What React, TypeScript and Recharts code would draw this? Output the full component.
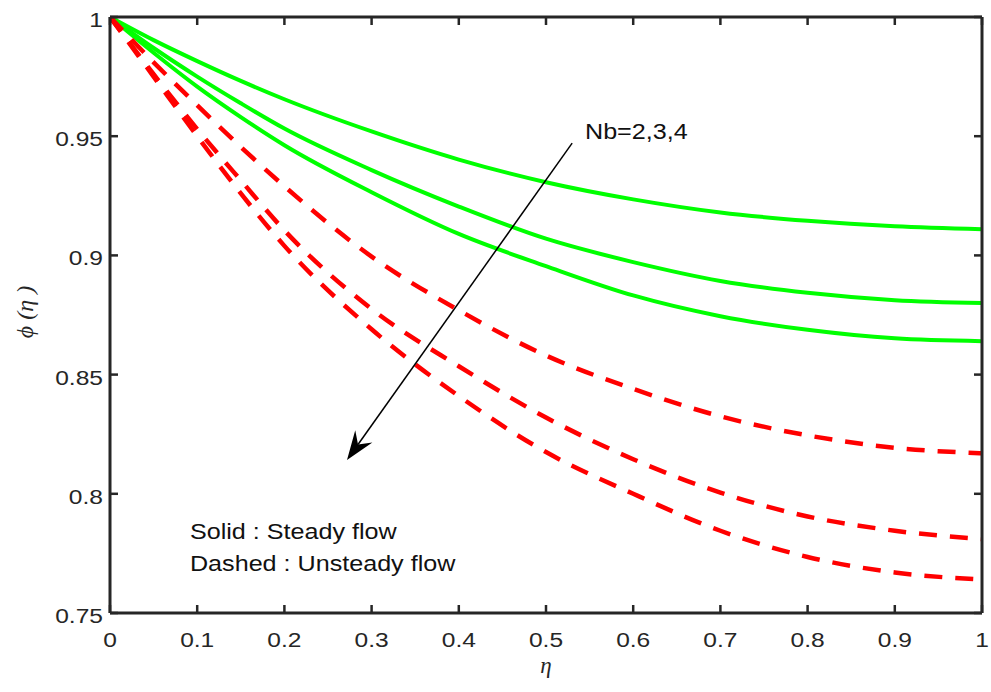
import React from "react";
import { LineChart, Line, XAxis, YAxis, ReferenceLine, ReferenceDot } from "recharts";

// eta grid and phi(eta) profiles
const etaValues = [0, 0.05, 0.1, 0.15, 0.2, 0.3, 0.4, 0.5, 0.6, 0.7, 0.8, 0.9, 1];
const steadyNb2 = [1, 0.9903, 0.9815, 0.9732, 0.9655, 0.952, 0.9402, 0.9307, 0.9235, 0.918, 0.9145, 0.9122, 0.911];
const steadyNb3 = [1, 0.987, 0.975, 0.9638, 0.9532, 0.9358, 0.9205, 0.907, 0.8972, 0.8893, 0.8843, 0.8812, 0.88];
const steadyNb4 = [1, 0.985, 0.9708, 0.958, 0.9462, 0.9265, 0.909, 0.8955, 0.8832, 0.8745, 0.8688, 0.8652, 0.864];
const unsteadyNb2 = [1, 0.981, 0.963, 0.9455, 0.929, 0.8995, 0.877, 0.858, 0.844, 0.8325, 0.8245, 0.8193, 0.817];
const unsteadyNb3 = [1, 0.976, 0.953, 0.9315, 0.9105, 0.8775, 0.8535, 0.832, 0.8145, 0.8005, 0.7905, 0.7845, 0.781];
const unsteadyNb4 = [1, 0.975, 0.95, 0.926, 0.904, 0.869, 0.841, 0.8175, 0.8, 0.7845, 0.7735, 0.767, 0.764];

const xTicks = [0, 0.1, 0.2, 0.3, 0.4, 0.5, 0.6, 0.7, 0.8, 0.9, 1];
const yTicks = [0.75, 0.8, 0.85, 0.9, 0.95, 1];

// annotation anchors (data coordinates)
const arrowFrom = { eta: 0.53, phi: 0.9471 };
const arrowTo = { eta: 0.2718, phi: 0.8142 };
const notes = [
  { eta: 0.5447, phi: 0.9522, text: "Nb=2,3,4" },
  { eta: 0.0917, phi: 0.7844, text: "Solid : Steady flow" },
  { eta: 0.0917, phi: 0.771, text: "Dashed : Unsteady flow" },
];

const data = etaValues.map((eta, i) => ({
  eta,
  s2: steadyNb2[i],
  s3: steadyNb3[i],
  s4: steadyNb4[i],
  u2: unsteadyNb2[i],
  u3: unsteadyNb3[i],
  u4: unsteadyNb4[i],
}));

const series = [
  { key: "s2", color: "#00ff00", dashed: false },
  { key: "s3", color: "#00ff00", dashed: false },
  { key: "s4", color: "#00ff00", dashed: false },
  { key: "u2", color: "#ff0000", dashed: true },
  { key: "u3", color: "#ff0000", dashed: true },
  { key: "u4", color: "#ff0000", dashed: true },
];

const AXIS = "#262626";
const SANS = "'Liberation Sans', Arial, sans-serif";
const SERIF = "'Liberation Serif', 'Times New Roman', serif";
const TICK_LEN = 8;
const STRETCH = 1.17;

function Tick(props: any) {
  const { x, y, payload, side } = props;
  let line = null;
  let label = null;
  if (side === "bottom") {
    line = <line x1={x} y1={y} x2={x} y2={y - TICK_LEN} />;
    label = (
      <text transform={`translate(${x},${y + 34}) scale(${STRETCH},1)`} textAnchor="middle">
        {payload.value}
      </text>
    );
  } else if (side === "top") {
    line = <line x1={x} y1={y} x2={x} y2={y + TICK_LEN} />;
  } else if (side === "left") {
    line = <line x1={x} y1={y} x2={x + TICK_LEN} y2={y} />;
    label = (
      <text transform={`translate(${x - 7},${y + 10}) scale(${STRETCH},1)`} textAnchor="end">
        {payload.value}
      </text>
    );
  } else {
    line = <line x1={x} y1={y} x2={x - TICK_LEN} y2={y} />;
  }
  return (
    <g>
      <g stroke={AXIS} strokeWidth={2.5}>{line}</g>
      {label && (
        <g fill={AXIS} fontFamily={SANS} fontSize={21}>
          {label}
        </g>
      )}
    </g>
  );
}

function XTitle(props: any) {
  const vb = props.viewBox || { x: 0, y: 0, width: 0, height: 0 };
  return (
    <text x={vb.x + vb.width / 2} y={vb.y + 60} textAnchor="middle" fontFamily={SERIF} fontStyle="italic" fontSize={23} fill={AXIS}>
      η
    </text>
  );
}

function YTitle(props: any) {
  const vb = props.viewBox || { x: 0, y: 0, width: 0, height: 0 };
  const cx = vb.x - 25;
  const cy = vb.y + vb.height / 2 - 3;
  return (
    <text
      transform={`translate(${cx + 8},${cy}) rotate(-90)`}
      textAnchor="middle"
      fontFamily={SERIF}
      fontStyle="italic"
      fontSize={24}
      fill={AXIS}
    >
      ϕ (η )
    </text>
  );
}

function Arrow(props: any) {
  const { x1, y1, x2, y2 } = props;
  const dx = x2 - x1;
  const dy = y2 - y1;
  const len = Math.sqrt(dx * dx + dy * dy) || 1;
  const ux = dx / len;
  const uy = dy / len;
  const nx = -uy;
  const ny = ux;
  const back = 29;
  const half = 10.5;
  const notch = 19;
  const pts = [
    [x2, y2],
    [x2 - back * ux + half * nx, y2 - back * uy + half * ny],
    [x2 - notch * ux, y2 - notch * uy],
    [x2 - back * ux - half * nx, y2 - back * uy - half * ny],
  ]
    .map((p) => p.join(","))
    .join(" ");
  return (
    <g>
      <line x1={x1} y1={y1} x2={x2 - notch * ux} y2={y2 - notch * uy} stroke="#000" strokeWidth={1.5} />
      <polygon points={pts} fill="#000" />
    </g>
  );
}

function Note(text: string) {
  return (props: any) => (
    <text
      transform={`translate(${props.cx},${props.cy + 8}) scale(${STRETCH},1)`}
      fontFamily={SANS}
      fontSize={21.5}
      fill="#111"
    >
      {text}
    </text>
  );
}

export default function App() {
  return (
    <div style={{ position: "absolute", left: 0, top: 0, width: 991, height: 692, background: "#fff" }}>
      <LineChart width={991} height={692} data={data} margin={{ top: 16, right: 8, bottom: 29, left: 50 }}>
        <XAxis
          dataKey="eta"
          type="number"
          domain={[0, 1]}
          ticks={xTicks}
          interval={0}
          allowDataOverflow
          height={50}
          tickSize={0}
          tickMargin={0}
          tickLine={false}
          axisLine={{ stroke: AXIS, strokeWidth: 3 }}
          tick={(p: any) => <Tick {...p} side="bottom" />}
          label={<XTitle />}
        />
        <XAxis
          xAxisId="top"
          orientation="top"
          dataKey="eta"
          type="number"
          domain={[0, 1]}
          ticks={xTicks}
          interval={0}
          allowDataOverflow
          height={1}
          tickSize={0}
          tickMargin={0}
          tickLine={false}
          axisLine={{ stroke: AXIS, strokeWidth: 3 }}
          tick={(p: any) => <Tick {...p} side="top" />}
        />
        <YAxis
          type="number"
          domain={[0.75, 1]}
          ticks={yTicks}
          interval={0}
          allowDataOverflow
          width={60}
          tickSize={0}
          tickMargin={0}
          tickLine={false}
          axisLine={{ stroke: AXIS, strokeWidth: 3 }}
          tick={(p: any) => <Tick {...p} side="left" />}
          label={<YTitle />}
        />
        <YAxis
          yAxisId="right"
          orientation="right"
          type="number"
          domain={[0.75, 1]}
          ticks={yTicks}
          interval={0}
          allowDataOverflow
          width={1}
          tickSize={0}
          tickMargin={0}
          tickLine={false}
          axisLine={{ stroke: AXIS, strokeWidth: 3 }}
          tick={(p: any) => <Tick {...p} side="right" />}
        />
        {series.map((s) => (
          <Line
            key={s.key}
            type="monotone"
            dataKey={s.key}
            stroke={s.color}
            strokeWidth={s.dashed ? 4.5 : 4}
            strokeDasharray={s.dashed ? "18 13" : undefined}
            strokeLinecap="butt"
            dot={false}
            activeDot={false}
            isAnimationActive={false}
          />
        ))}
        <ReferenceLine
          segment={[
            { x: arrowFrom.eta, y: arrowFrom.phi },
            { x: arrowTo.eta, y: arrowTo.phi },
          ]}
          shape={(p: any) => <Arrow {...p} />}
          ifOverflow="visible"
        />
        {notes.map((n) => (
          <ReferenceDot key={n.text} x={n.eta} y={n.phi} r={0} shape={Note(n.text)} ifOverflow="visible" />
        ))}
      </LineChart>
    </div>
  );
}
